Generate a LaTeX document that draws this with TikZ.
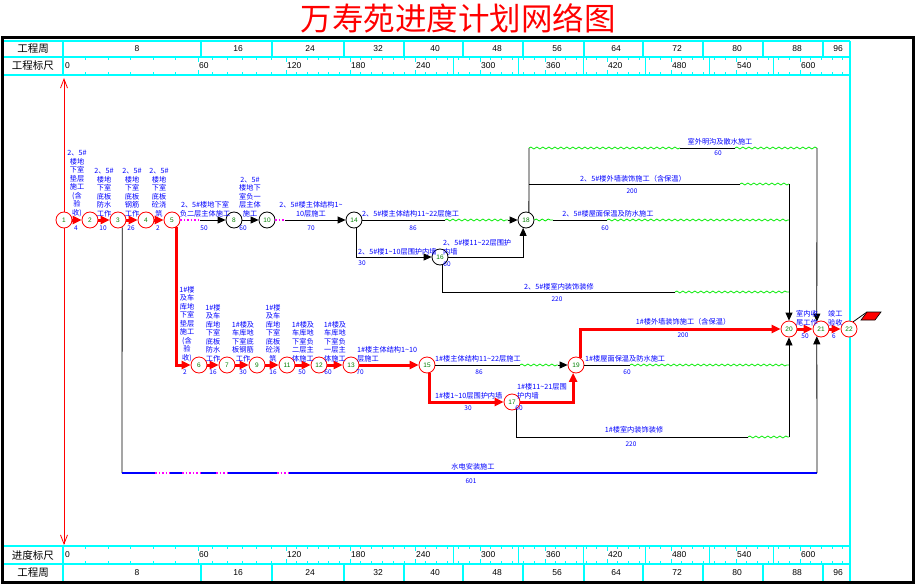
\documentclass[tikz,border=0pt]{standalone}
\usepackage{fontspec}
\setmainfont{Liberation Sans}
\newfontfamily\cjk{Noto Sans CJK SC}
\usetikzlibrary{arrows.meta,decorations.pathmorphing}
\definecolor{lblue}{RGB}{0,0,255}
\definecolor{cred}{RGB}{255,0,0}
\definecolor{ccyan}{RGB}{0,255,255}
\definecolor{cgreen}{RGB}{0,235,0}
\definecolor{cmag}{RGB}{255,0,255}
\definecolor{ngreen}{RGB}{0,128,0}
\newcommand{\mytilde}{\textasciitilde{}}
\begin{document}
\begin{tikzpicture}[x=1pt,y=-1pt,
  evt/.style={circle,draw=#1,fill=white,minimum size=16pt,inner sep=0pt,font=\fontsize{6.5}{6.5}\selectfont,text=ngreen,line width=0.8pt},
  evt/.default=black,
  crit/.style={draw=cred,line width=3pt,-{Triangle[length=9pt,width=8pt]}},
  norm/.style={draw=black,line width=0.8pt},
  narr/.style={norm,-{Triangle[length=8pt,width=7pt]}},
  wav/.style={draw=cgreen,line width=0.8pt,decorate,decoration={snake,segment length=6pt,amplitude=1pt}},
  dotm/.style={draw=cmag,line width=1.3pt,dash pattern=on 1.5pt off 2pt},
  sdl/.style={draw=lblue,line width=1.5pt},
  lab/.style={font=\cjk\fontsize{7.2}{8.5}\selectfont,text=lblue,inner sep=0pt,align=center},
  labl/.style={lab,align=left},
  dur/.style={font=\cjk\fontsize{6.5}{7}\selectfont,text=lblue,inner sep=0pt},
  hdr/.style={font=\cjk\fontsize{10.5}{11}\selectfont,inner sep=0pt},
  num/.style={font=\fontsize{8.5}{9}\selectfont,inner sep=0pt},
  grid/.style={draw=ccyan,line width=1.5pt},
  tick/.style={draw=ccyan,line width=0.8pt},
]
\useasboundingbox (0,0) rectangle (916,586);
\fill[white] (0,0) rectangle (916,586);
% title
\node[font=\cjk\fontsize{31.5}{32}\selectfont,text=cred,inner sep=0pt] (title) at (458,18) {万寿苑进度计划网络图};
% frame
\draw[line width=3pt] (2.5,38) rectangle (913,582.5);
% header / footer grid
\draw[grid] (4,41) -- (850,41) (4,57) -- (850,57) (4,75) -- (850,75);
\draw[grid] (4,546) -- (850,546) (4,564) -- (850,564);
\draw[grid] (63,41) -- (63,75) (63,546) -- (63,581);
\draw[grid] (850,41) -- (850,581);
\foreach \x in {201,272,344,404,463,523,584,643,703,763,823}{
  \draw[grid] (\x,41) -- (\x,57) (\x,564) -- (\x,581);
}
\node[hdr] (h1) at (33,49) {工程周};
\node[hdr] (h2) at (33,66) {工程标尺};
\node[hdr] (h3) at (33,555) {进度标尺};
\node[hdr] (h4) at (33,572.5) {工程周};
\foreach \x/\t in {137/8,238/16,310/24,378/32,435/40,497/48,557/56,616/64,677/72,737/80,797/88,838/96}{
  \node[num] (wt\t) at (\x,49) {\t};
  \node[num] (wb\t) at (\x,572.5) {\t};
}
\foreach \x/\t in {65/0,199/60,287/120,351/180,416/240,481/300,546/360,608/420,672/480,737/540,801/600}{
  \node[num,anchor=west] (rt\t) at (\x,66) {\t};
  \node[num,anchor=west] (rb\t) at (\x,555) {\t};
}
\foreach \a/\b in {63/198,198/286,286/350,350/415,415/480,480/545,545/607,607/671,671/736,736/800,800/864}{
  \foreach \k in {1,...,5}{
    \pgfmathsetmacro\xx{\a+\k*(\b-\a)/6}
    \ifdim\xx pt<849pt
    \draw[tick] (\xx,57) -- ++(0,3) (\xx,75) -- ++(0,-3) (\xx,546) -- ++(0,3) (\xx,564) -- ++(0,-3);
    \fi
  }
}
\foreach \x in {198,286,350,415,480,545,607,671,736,800}{
  \draw[tick] (\x,57) -- ++(0,5) (\x,75) -- ++(0,-5) (\x,546) -- ++(0,5) (\x,564) -- ++(0,-5);
}
\foreach \x in {453,518,583,645,709,773}{
  \draw[tick] (\x,57) -- (\x,75) (\x,546) -- (\x,564);
}
% time line
\coordinate (tt) at (64,78);
\coordinate (tb) at (64,545);
\draw[cred,line width=0.8pt,{Straight Barb[length=9pt,width=7pt]}-{Straight Barb[length=9pt,width=7pt]}] (tt) -- (tb);
% nodes
\node[evt=cred] (n1) at (64,220) {1};
\node[evt=cred] (n2) at (90,220) {2};
\node[evt=cred] (n3) at (118,220) {3};
\node[evt=cred] (n4) at (146,220) {4};
\node[evt=cred] (n5) at (172,220) {5};
\node[evt] (n8) at (234,220) {8};
\node[evt] (n10) at (267,220) {10};
\node[evt] (n14) at (354,220) {14};
\node[evt] (n18) at (526,220) {18};
\node[evt] (n16) at (440,257) {16};
\node[evt=cred] (n6) at (199,365) {6};
\node[evt=cred] (n7) at (227,365) {7};
\node[evt=cred] (n9) at (257,365) {9};
\node[evt=cred] (n11) at (287,365) {11};
\node[evt=cred] (n12) at (319,365) {12};
\node[evt=cred] (n13) at (351,365) {13};
\node[evt=cred] (n15) at (427,365) {15};
\node[evt=cred] (n17) at (512,402) {17};
\node[evt=cred] (n19) at (576,365) {19};
\node[evt=cred] (n20) at (789,329) {20};
\node[evt=cred] (n21) at (821,329) {21};
\node[evt=cred] (n22) at (849,329) {22};
% upper chain
\draw[crit] (n1) -- (n2);
\draw[crit] (n2) -- (n3);
\draw[crit] (n3) -- (n4);
\draw[crit] (n4) -- (n5);
\draw[crit] (n5.-60) |- (n6);
\coordinate (c58) at (200,220);
\draw[dotm] (n5) -- (c58);
\draw[narr] (c58) -- (n8);
\draw[narr] (n8) -- (n10);
\coordinate (c1014) at (285,220);
\draw[dotm] (n10) -- (c1014);
\draw[narr] (c1014) -- (n14);
\coordinate (c1418a) at (445,220);
\coordinate (c1418b) at (508,220);
\draw[norm] (n14) -- (c1418a);
\draw[wav] (c1418a) -- (c1418b);
\draw[narr] (c1418b) -- (n18);
\draw[narr] (n14.-70) |- (n16);
\draw[narr] (n16) -| (n18.-110);
\coordinate (k1) at (675,292);
\coordinate (k2) at (789,292);
\draw[norm] (n16.-70) |- (k1);
\draw[wav] (k1) -- (k2);
\coordinate (a1) at (529,148);
\coordinate (a2) at (680,148);
\coordinate (a3) at (735,148);
\coordinate (a4) at (817,148);
\draw[norm] (n18.70) -- (a1);
\draw[wav] (a1) -- (a2);
\draw[norm] (a2) -- (a3);
\draw[wav] (a3) -- (a4);
\draw[narr] (a4) -- (n21.120);
\coordinate (b1) at (529,184);
\coordinate (b2) at (740,184);
\coordinate (b3) at (789,184);
\draw[norm] (b1) -- (b2);
\draw[wav] (b2) -- (b3);
\draw[narr] (b3) -- (n20.north);
\coordinate (e1) at (553,220);
\coordinate (e2) at (607,220);
\coordinate (e3) at (789,220);
\draw[wav] (n18) -- (e1);
\draw[norm] (e1) -- (e2);
\draw[wav] (e2) -- (e3);
% lower chain
\draw[crit] (n6) -- (n7);
\draw[crit] (n7) -- (n9);
\draw[crit] (n9) -- (n11);
\draw[crit] (n11) -- (n12);
\draw[crit] (n12) -- (n13);
\draw[crit] (n13) -- (n15);
\coordinate (f1) at (520,365);
\coordinate (f2) at (558,365);
\draw[norm] (n15) -- (f1);
\draw[wav] (f1) -- (f2);
\draw[narr] (f2) -- (n19);
\draw[crit] (n15.-70) |- (n17);
\draw[crit] (n17) -| (n19.-110);
\draw[crit] (n19.60) |- (n20);
\coordinate (g1) at (630,365);
\coordinate (g2) at (789,365);
\draw[norm] (n19) -- (g1);
\draw[wav] (g1) -- (g2);
\coordinate (hh1) at (748,437);
\coordinate (hh2) at (789,437);
\draw[norm] (n17.-60) |- (hh1);
\draw[wav] (hh1) -- (hh2);
\draw[narr] (hh2) -- (n20.south);
\draw[crit] (n20) -- (n21);
\draw[crit] (n21) -- (n22);
% water/electric line
\coordinate (s0) at (122,473);
\coordinate (s9) at (817,473);
\draw[norm] (n3.-60) -- (s0);
\draw[sdl] (s0) -- (s9);
\foreach \p/\q in {155/170,182/200,216/228,277/288}{
  \draw[white,line width=2pt] (\p,473) -- (\q,473);
  \draw[dotm] (\p,473) -- (\q,473);
}
\draw[narr] (s9) -- (n21.240);
% flag
\coordinate (fl) at (867,312);
\draw[norm] (n22.60) -- (fl);
\draw[fill=cred,draw=black,line width=0.6pt] (fl) -- (881,312) -- (875,320) -- (861,320) -- cycle;
% upper labels
\node[lab,anchor=south] (l12) at (77,217) {2、5\#\\楼地\\下室\\垫层\\施工\\(含\\验\\收)};
\node[lab,anchor=south] (l23) at (104,217) {2、5\#\\楼地\\下室\\底板\\防水\\工作};
\node[lab,anchor=south] (l34) at (132,217) {2、5\#\\楼地\\下室\\底板\\钢筋\\工作};
\node[lab,anchor=south] (l45) at (159,217) {2、5\#\\楼地\\下室\\底板\\砼浇\\筑};
\node[lab,anchor=south] (l58) at (205,217) {2、5\#楼地下室\\负二层主体施工};
\node[lab,anchor=south] (l810) at (250,217) {2、5\#\\楼地下\\室负一\\层主体\\施工};
\node[lab,anchor=south] (l1014) at (311,217) {2、5\#楼主体结构1\mytilde\\10层施工};
\node[lab,anchor=south west] (l1418) at (362,217) {2、5\#楼主体结构11\mytilde22层施工};
\node[lab,anchor=south west] (l1416) at (358,255) {2、5\#楼1\mytilde10层围护内墙};
\node[labl,anchor=south west] (l1618) at (443,255) {2、5\#楼11\mytilde22层围护\\内墙};
\node[lab] (l1620) at (559,287) {2、5\#楼室内装饰装修};
\node[lab] (ltop) at (720,142) {室外明沟及散水施工};
\node[lab] (l184) at (633,179) {2、5\#楼外墙装饰施工（含保温）};
\node[lab] (l220) at (608,214) {2、5\#楼屋面保温及防水施工};
% lower labels
\node[lab,anchor=south] (l56) at (187,362) {1\#楼\\及车\\库地\\下室\\垫层\\施工\\(含\\验\\收)};
\node[lab,anchor=south] (l67) at (213,362) {1\#楼\\及车\\库地\\下室\\底板\\防水\\工作};
\node[lab,anchor=south] (l79) at (243,362) {1\#楼及\\车库地\\下室底\\板钢筋\\工作};
\node[lab,anchor=south] (l911) at (273,362) {1\#楼\\及车\\库地\\下室\\底板\\砼浇\\筑};
\node[lab,anchor=south] (l1112) at (303,362) {1\#楼及\\车库地\\下室负\\二层主\\体施工};
\node[lab,anchor=south] (l1213) at (335,362) {1\#楼及\\车库地\\下室负\\一层主\\体施工};
\node[labl,anchor=south west] (l1315) at (357,362) {1\#楼主体结构1\mytilde10\\层施工};
\node[lab,anchor=south west] (l1519) at (435,362) {1\#楼主体结构11\mytilde22层施工};
\node[lab,anchor=south west] (l1517) at (435,399) {1\#楼1\mytilde10层围护内墙};
\node[labl,anchor=south west] (l1719) at (517,399) {1\#楼11\mytilde21层围\\护内墙};
\node[lab] (l1920r) at (683,322) {1\#楼外墙装饰施工（含保温）};
\node[lab,anchor=south west] (l1920) at (585,362) {1\#楼屋面保温及防水施工};
\node[lab] (l1720) at (634,430) {1\#楼室内装饰装修};
\node[labl,anchor=south west] (l2021) at (796,326) {室内收\\尾工作};
\node[labl,anchor=south west] (l2122) at (828,326) {竣工\\验收};
\node[lab] (lsd) at (473,467) {水电安装施工};
% durations
\node[dur] (d12) at (76,228) {4};
\node[dur] (d23) at (103,228) {10};
\node[dur] (d34) at (131,228) {26};
\node[dur] (d45) at (158,228) {2};
\node[dur] (d58) at (204,228) {50};
\node[dur] (d810) at (243,228) {60};
\node[dur] (d1014) at (311,228) {70};
\node[dur] (d1418) at (413,228) {86};
\node[dur] (d1416) at (362,263) {30};
\node[dur] (d1618) at (447,264) {60};
\node[dur] (d1620) at (557,299) {220};
\node[dur] (dtop) at (718,153) {60};
\node[dur] (d184) at (632,191) {200};
\node[dur] (d220) at (605,228) {60};
\node[dur] (d56) at (185,372) {2};
\node[dur] (d67) at (213,372) {16};
\node[dur] (d79) at (243,372) {30};
\node[dur] (d911) at (273,372) {16};
\node[dur] (d1112) at (302,372) {50};
\node[dur] (d1213) at (328,372) {60};
\node[dur] (d1315) at (360,372) {70};
\node[dur] (d1519) at (479,372) {86};
\node[dur] (d1517) at (468,408) {30};
\node[dur] (d1719) at (519,408) {60};
\node[dur] (d1920r) at (683,335) {200};
\node[dur] (d1920) at (627,372) {60};
\node[dur] (d1720) at (631,444) {220};
\node[dur] (d2021) at (805,336) {50};
\node[dur] (d2122) at (834,336) {6};
\node[dur] (dsd) at (471,481) {601};
\end{tikzpicture}
\end{document}
